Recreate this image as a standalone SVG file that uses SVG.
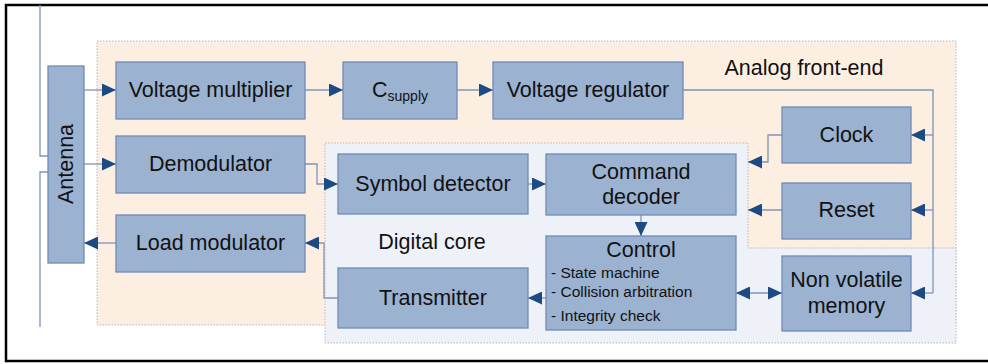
<svg xmlns="http://www.w3.org/2000/svg" width="988" height="364" viewBox="0 0 988 364">
<style>
.box{fill:#9bb2d1;stroke:#6f8cb6;stroke-width:1.3}
.t{font-family:"Liberation Sans",Arial,sans-serif;font-size:21.5px;fill:#111;text-anchor:middle;dominant-baseline:central}
.s{font-family:"Liberation Sans",Arial,sans-serif;font-size:15.5px;fill:#111}
.ln{fill:none;stroke:#7f94b4;stroke-width:1.3}
.ar{marker-end:url(#ah)}
</style>
<defs>
<marker id="ah" viewBox="0 0 14 13" refX="14" refY="6.5" markerWidth="14" markerHeight="13" orient="auto-start-reverse" markerUnits="userSpaceOnUse">
<path d="M0,0 L14,6.5 L0,13 z" fill="#1d4a82"/>
</marker>
</defs>
<rect x="0" y="0" width="988" height="364" fill="#fff"/>
<rect x="6" y="5" width="1000" height="356" fill="none" stroke="#000" stroke-width="2.5"/>

<g id="analog-front-end">
<rect x="97" y="41" width="859" height="284" fill="#fdeee2" stroke="#b8b8c0" stroke-width="1" stroke-dasharray="1.5,1.5"/>
<text class="t" x="804" y="68">Analog front-end</text>
</g>
<g id="digital-core">
<path d="M325,143 H748 V248 H956 V343 H325 Z" fill="#eef2f8" stroke="#b8b8c0" stroke-width="1" stroke-dasharray="1.5,1.5"/>
<text class="t" x="432" y="242">Digital core</text>
</g>

<g id="connectors">
<path class="ln" d="M40,5 V156 H48"/>
<path class="ln" d="M48,172 H40 V327"/>
<path class="ln ar" d="M84,90 H116"/>
<path class="ln ar" d="M84,164 H116"/>
<path class="ln ar" d="M116,243 H84"/>
<path class="ln ar" d="M305,90 H343"/>
<path class="ln ar" d="M457,90 H493"/>
<path class="ln" d="M683,90 H933 V293"/>
<path class="ln ar" d="M933,135 H911"/>
<path class="ln ar" d="M933,210 H911"/>
<path class="ln ar" d="M933,293 H911"/>
<path class="ln ar" d="M782,135 H768 V162 H748"/>
<path class="ln ar" d="M782,210 H748"/>
<path class="ln ar" d="M305,164 H317 V184 H338"/>
<path class="ln ar" d="M528,184 H546"/>
<path class="ln ar" d="M641,215 V236"/>
<path class="ln ar" style="marker-start:url(#ah)" d="M736,293 H782"/>
<path class="ln ar" d="M546,298 H528"/>
<path class="ln ar" d="M338,298 H324 V243 H305"/>
</g>

<g id="antenna">
<rect class="box" x="48" y="66" width="36" height="197"/>
<text class="t" transform="translate(66,164) rotate(-90)" x="0" y="0">Antenna</text>
</g>
<g id="voltage-multiplier">
<rect class="box" x="116" y="62" width="189" height="57"/>
<text class="t" x="210.5" y="90">Voltage multiplier</text>
</g>
<g id="csupply">
<rect class="box" x="343" y="62" width="114" height="57"/>
<text class="t" x="400" y="90"><tspan>C</tspan><tspan font-size="14" dy="6">supply</tspan></text>
</g>
<g id="voltage-regulator">
<rect class="box" x="493" y="62" width="190" height="57"/>
<text class="t" x="588" y="90">Voltage regulator</text>
</g>
<g id="demodulator">
<rect class="box" x="116" y="136" width="189" height="57"/>
<text class="t" x="210.5" y="164">Demodulator</text>
</g>
<g id="load-modulator">
<rect class="box" x="116" y="215" width="189" height="57"/>
<text class="t" x="210.5" y="243">Load modulator</text>
</g>
<g id="symbol-detector">
<rect class="box" x="338" y="154" width="190" height="60"/>
<text class="t" x="433" y="184">Symbol detector</text>
</g>
<g id="command-decoder">
<rect class="box" x="546" y="154" width="190" height="61"/>
<text class="t" x="641" y="172">Command</text>
<text class="t" x="641" y="197">decoder</text>
</g>
<g id="control">
<rect class="box" x="546" y="236" width="190" height="94"/>
<text class="t" x="641" y="250">Control</text>
<text class="s" x="551" y="278">- State machine</text>
<text class="s" x="551" y="297">- Collision arbitration</text>
<text class="s" x="551" y="321">- Integrity check</text>
</g>
<g id="transmitter">
<rect class="box" x="338" y="268" width="190" height="60"/>
<text class="t" x="433" y="298">Transmitter</text>
</g>
<g id="clock">
<rect class="box" x="782" y="107" width="129" height="56"/>
<text class="t" x="846.5" y="135">Clock</text>
</g>
<g id="reset">
<rect class="box" x="782" y="183" width="129" height="56"/>
<text class="t" x="846.5" y="210">Reset</text>
</g>
<g id="non-volatile-memory">
<rect class="box" x="782" y="256" width="129" height="75"/>
<text class="t" x="846.5" y="280">Non volatile</text>
<text class="t" x="846.5" y="306">memory</text>
</g>
</svg>
